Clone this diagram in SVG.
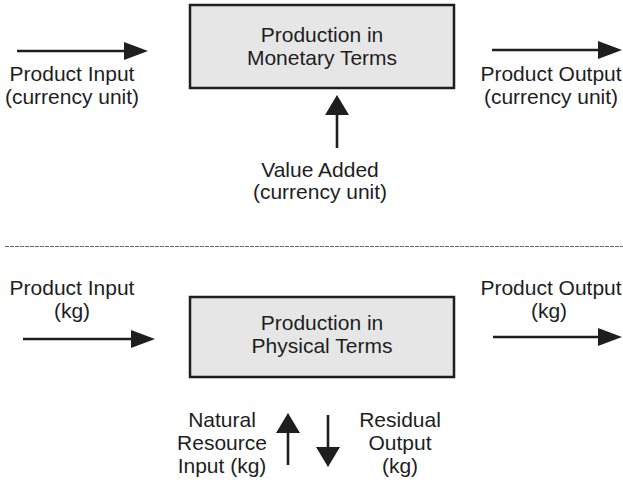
<svg xmlns="http://www.w3.org/2000/svg" width="623" height="484" viewBox="0 0 623 484">
<style>
text{font-family:"Liberation Sans",Arial,Helvetica,sans-serif;font-size:21px;fill:#1e1e1e;text-anchor:middle}
.box{fill:#e6e6e6;stroke:#1e1e1e;stroke-width:2.5}
.arr{stroke:#1e1e1e;stroke-width:2.6;fill:none}
.dash{stroke:#666;stroke-width:1;stroke-dasharray:4 1}
</style>
<defs>
<marker id="ah" markerUnits="userSpaceOnUse" markerWidth="26" markerHeight="20" refX="0" refY="9" orient="auto" overflow="visible">
<path d="M0,0 L24,9 L0,18 Z" fill="#1e1e1e"/>
</marker>
<marker id="av" markerUnits="userSpaceOnUse" markerWidth="22" markerHeight="26" refX="0" refY="12" orient="auto" overflow="visible">
<path d="M0,0 L20,12 L0,24 Z" fill="#1e1e1e"/>
</marker>
</defs>

<g id="monetary-box">
<rect class="box" x="190" y="5" width="264" height="83"/>
<text x="322" y="42">Production in</text>
<text x="322" y="65">Monetary Terms</text>
</g>
<g id="monetary-input">
<text x="72" y="81">Product Input</text>
<text x="72" y="104">(currency unit)</text>
</g>
<g id="monetary-output">
<text x="551" y="81">Product Output</text>
<text x="551" y="104">(currency unit)</text>
</g>
<g id="value-added">
<text x="320" y="177">Value Added</text>
<text x="320" y="199">(currency unit)</text>
</g>

<line class="dash" x1="5" y1="246.5" x2="623" y2="246.5"/>

<g id="physical-box">
<rect class="box" x="190" y="297" width="264" height="80"/>
<text x="322" y="330">Production in</text>
<text x="322" y="353">Physical Terms</text>
</g>
<g id="physical-input">
<text x="72" y="295">Product Input</text>
<text x="72" y="318">(kg)</text>
</g>
<g id="physical-output">
<text x="551" y="295">Product Output</text>
<text x="549" y="318">(kg)</text>
</g>
<g id="natural-resource">
<text x="222" y="427">Natural</text>
<text x="222" y="450">Resource</text>
<text x="222" y="473">Input (kg)</text>
</g>
<g id="residual-output">
<text x="400" y="427">Residual</text>
<text x="400" y="450">Output</text>
<text x="400" y="473">(kg)</text>
</g>

<g id="connectors">
<path class="arr" d="M17,51 H124" marker-end="url(#ah)"/>
<path class="arr" d="M492,50 H598" marker-end="url(#ah)"/>
<path class="arr" d="M337,148 V115" marker-end="url(#av)"/>
<path class="arr" d="M23,339 H131" marker-end="url(#ah)"/>
<path class="arr" d="M493,337 H598" marker-end="url(#ah)"/>
<path class="arr" d="M288,465 V433" marker-end="url(#av)"/>
<path class="arr" d="M328,415 V447" marker-end="url(#av)"/>
</g>
</svg>
